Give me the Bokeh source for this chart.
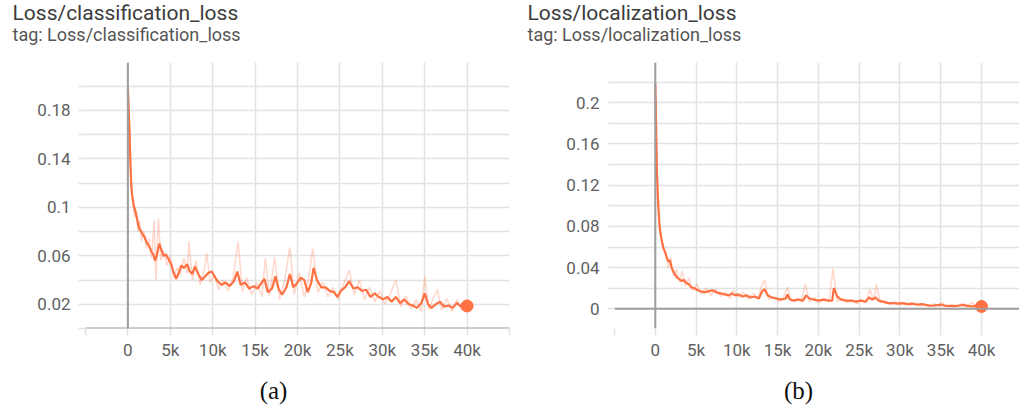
from bokeh.plotting import figure
from bokeh.models import FixedTicker, Span, Range1d, NumeralTickFormatter
from bokeh.layouts import row, column
from bokeh.core.properties import value
from bokeh.embed import file_html
from bokeh.resources import INLINE

# ---------------- data (steps in thousands) ----------------
cls_steps = [0, 0.1, 0.2, 0.3, 0.4, 0.5, 0.7, 0.9, 1.1, 1.3, 1.5, 1.7, 2.0, 2.2, 2.5, 2.8, 3.0, 3.2, 3.4, 3.7,
             3.9, 4.2, 4.5, 4.8, 5.1, 5.4, 5.7, 6.0, 6.3, 6.6, 7.0, 7.3, 7.6, 7.9, 8.3, 8.7, 9.1, 9.5, 9.9, 10.3,
             10.7, 11.1, 11.5, 12.0, 12.5, 12.9, 13.3, 13.8, 14.3, 14.8, 15.3, 15.8, 16.1, 16.5, 17.0, 17.4, 17.8, 18.2, 18.7, 19.1,
             19.5, 19.9, 20.4, 20.8, 21.2, 21.6, 21.9, 22.3, 22.8, 23.3, 23.8, 24.3, 24.7, 25.1, 25.6, 26.1, 26.6, 27.1, 27.6, 28.1,
             28.6, 29.1, 29.6, 30.1, 30.6, 31.1, 31.6, 32.1, 32.6, 33.1, 33.6, 34.1, 34.6, 35.0, 35.4, 35.8, 36.3, 36.8, 37.3, 37.8,
             38.3, 38.8, 39.3, 39.7, 40.0]
cls_smooth = [0.198, 0.180, 0.160, 0.135, 0.118, 0.110, 0.101, 0.096, 0.090, 0.083, 0.081, 0.078, 0.075, 0.071, 0.068, 0.063, 0.061, 0.056, 0.060, 0.070,
              0.066, 0.060, 0.061, 0.057, 0.053, 0.046, 0.041, 0.046, 0.052, 0.050, 0.053, 0.047, 0.045, 0.051, 0.045, 0.040, 0.043, 0.046, 0.047, 0.042,
              0.038, 0.036, 0.038, 0.035, 0.039, 0.047, 0.036, 0.038, 0.033, 0.035, 0.033, 0.038, 0.041, 0.030, 0.033, 0.043, 0.032, 0.028, 0.034, 0.045,
              0.034, 0.037, 0.042, 0.040, 0.030, 0.037, 0.050, 0.040, 0.034, 0.034, 0.031, 0.030, 0.026, 0.031, 0.034, 0.039, 0.033, 0.034, 0.031, 0.032,
              0.026, 0.029, 0.026, 0.024, 0.026, 0.022, 0.026, 0.021, 0.024, 0.020, 0.019, 0.017, 0.021, 0.029, 0.020, 0.017, 0.020, 0.022, 0.018, 0.019,
              0.017, 0.021, 0.018, 0.019, 0.0186]

cls_raw_steps = [0, 0.2, 0.4, 0.6, 0.8, 1.0, 1.2, 1.4, 1.6, 1.9, 2.2, 2.5, 2.8, 3.1, 3.3, 3.6, 3.9, 4.2, 4.6, 5.0,
                 5.4, 5.8, 6.2, 6.6, 7.0, 7.2, 7.6, 8.0, 8.5, 9.0, 9.3, 9.7, 10.2, 10.7, 11.2, 11.8, 12.4, 13.0, 13.5, 14.0,
                 14.6, 15.2, 15.8, 16.2, 16.7, 17.3, 17.9, 18.5, 19.1, 19.6, 20.2, 20.8, 21.3, 21.8, 22.4, 23.0, 23.6, 24.2, 24.8, 25.4,
                 26.1, 26.7, 27.3, 27.9, 28.5, 29.1, 29.7, 30.3, 30.9, 31.6, 32.2, 32.8, 33.4, 34.0, 34.6, 35.0, 35.5, 36.0, 36.5, 37.0,
                 37.6, 38.2, 38.8, 39.4, 40.0]
cls_raw = [0.198, 0.165, 0.120, 0.105, 0.092, 0.098, 0.080, 0.089, 0.072, 0.080, 0.066, 0.074, 0.058, 0.089, 0.040, 0.091, 0.056, 0.064, 0.052, 0.060,
           0.042, 0.050, 0.044, 0.058, 0.045, 0.072, 0.040, 0.056, 0.036, 0.048, 0.062, 0.038, 0.044, 0.032, 0.040, 0.031, 0.042, 0.072, 0.030, 0.042,
           0.028, 0.038, 0.026, 0.058, 0.027, 0.059, 0.024, 0.040, 0.067, 0.028, 0.046, 0.026, 0.040, 0.066, 0.030, 0.038, 0.026, 0.034, 0.024, 0.036,
           0.048, 0.028, 0.040, 0.024, 0.034, 0.022, 0.031, 0.020, 0.028, 0.040, 0.018, 0.027, 0.016, 0.024, 0.014, 0.043, 0.016, 0.025, 0.032, 0.015,
           0.025, 0.014, 0.024, 0.015, 0.0186]

loc_steps = [0, 0.05, 0.1, 0.15, 0.2, 0.3, 0.4, 0.5, 0.6, 0.8, 1.0, 1.2, 1.4, 1.6, 1.8, 2.0, 2.3, 2.6, 2.9, 3.2,
             3.5, 3.8, 4.1, 4.4, 4.8, 5.2, 5.6, 6.0, 6.5, 7.0, 7.5, 8.0, 8.5, 9.0, 9.4, 9.8, 10.2, 10.7, 11.2, 11.7,
             12.2, 12.7, 13.1, 13.4, 13.8, 14.3, 14.9, 15.5, 16.0, 16.2, 16.5, 17.0, 17.6, 18.1, 18.5, 18.9, 19.4, 20.0, 20.6, 21.2,
             21.7, 21.9, 22.3, 22.8, 23.4, 24.0, 24.6, 25.2, 25.8, 26.2, 26.6, 27.0, 27.4, 27.9, 28.5, 29.1, 29.7, 30.3, 30.9, 31.5,
             32.1, 32.7, 33.3, 33.9, 34.5, 35.0, 35.5, 36.1, 36.7, 37.3, 37.9, 38.3, 38.8, 39.4, 40.0]
loc_smooth = [0.218, 0.200, 0.176, 0.155, 0.134, 0.112, 0.096, 0.083, 0.075, 0.066, 0.059, 0.055, 0.050, 0.046, 0.047, 0.040, 0.035, 0.031, 0.029, 0.027,
              0.028, 0.025, 0.024, 0.021, 0.020, 0.018, 0.017, 0.016, 0.017, 0.018, 0.016, 0.015, 0.014, 0.013, 0.015, 0.013, 0.014, 0.012, 0.013, 0.011,
              0.012, 0.010, 0.017, 0.019, 0.013, 0.011, 0.010, 0.009, 0.010, 0.014, 0.009, 0.008, 0.009, 0.008, 0.013, 0.010, 0.009, 0.008, 0.009, 0.008,
              0.008, 0.020, 0.012, 0.009, 0.008, 0.008, 0.007, 0.008, 0.007, 0.011, 0.009, 0.011, 0.008, 0.007, 0.0055, 0.0055, 0.005, 0.0055, 0.0045, 0.005,
              0.004, 0.0045, 0.0035, 0.003, 0.0035, 0.0042, 0.003, 0.0028, 0.0026, 0.0032, 0.0038, 0.0028, 0.0024, 0.0028, 0.0023]

loc_raw_steps = [0, 0.2, 0.4, 0.7, 1.0, 1.3, 1.6, 1.9, 2.2, 2.6, 3.0, 3.3, 3.7, 4.1, 4.6, 5.1, 5.6, 6.2, 6.8, 7.4,
                 8.0, 8.6, 9.2, 9.6, 10.2, 10.8, 11.4, 12.0, 12.6, 13.0, 13.4, 13.9, 14.5, 15.1, 15.7, 16.2, 16.7, 17.3, 17.9, 18.4,
                 18.9, 19.5, 20.1, 20.7, 21.3, 21.8, 22.3, 22.9, 23.5, 24.1, 24.7, 25.3, 25.9, 26.3, 26.8, 27.1, 27.6, 28.2, 28.8, 29.4,
                 30.0, 30.6, 31.2, 31.8, 32.4, 33.0, 33.6, 34.2, 34.8, 35.2, 35.8, 36.4, 37.0, 37.6, 38.2, 38.8, 39.4, 40.0]
loc_raw = [0.218, 0.135, 0.095, 0.070, 0.058, 0.055, 0.040, 0.050, 0.032, 0.038, 0.026, 0.037, 0.022, 0.030, 0.018, 0.024, 0.014, 0.020, 0.013, 0.019,
           0.012, 0.016, 0.010, 0.018, 0.011, 0.016, 0.009, 0.015, 0.010, 0.022, 0.028, 0.009, 0.012, 0.007, 0.011, 0.021, 0.007, 0.010, 0.007, 0.024,
           0.007, 0.011, 0.006, 0.010, 0.007, 0.039, 0.007, 0.010, 0.006, 0.009, 0.005, 0.009, 0.006, 0.019, 0.008, 0.024, 0.006, 0.008, 0.004, 0.007,
           0.004, 0.006, 0.003, 0.006, 0.003, 0.005, 0.002, 0.005, 0.002, 0.006, 0.002, 0.004, 0.002, 0.005, 0.002, 0.006, 0.002, 0.0023]

x_major = [0, 5, 10, 15, 20, 25, 30, 35, 40]
x_minor = [-5, 45]
cls_y_major = [0.02, 0.06, 0.1, 0.14, 0.18]
cls_y_minor = [0.0, 0.04, 0.08, 0.12, 0.16, 0.2]
loc_y_major = [0.0, 0.04, 0.08, 0.12, 0.16, 0.2]
loc_y_minor = [-0.02, 0.02, 0.06, 0.1, 0.14, 0.18, 0.22]

titles = ["Loss/classification_loss", "Loss/localization_loss"]
tags = ["tag: Loss/classification_loss", "tag: Loss/localization_loss"]
letters = ["(a)", "(b)"]

ORANGE = "#ff7043"
GRID = "#e2e2e2"
ZERO = "#9e9e9e"
TICKC = "#616161"

W = 1019
HEAD_H = 62
PLOT_H = 310
FOOT_H = 34


def k(v):
    return [s * 1000 for s in v]


def blank(w, h):
    f = figure(width=w, height=h, x_range=Range1d(0, w), y_range=Range1d(0, h),
               x_axis_type=None, y_axis_type=None, output_backend="svg", toolbar_location=None,
               min_border=0, min_border_left=0, min_border_right=0, min_border_top=0, min_border_bottom=0)
    f.outline_line_color = None
    return f


def panel(width, bl, br, xr, yr, ymaj, ymin, rx, ry, sx, sy):
    p = figure(width=width, height=PLOT_H, x_range=Range1d(*xr), y_range=Range1d(*yr),
               output_backend="svg", toolbar_location=None,
               min_border_left=bl, min_border_right=br, min_border_top=0, min_border_bottom=44)
    p.outline_line_color = None
    xt = FixedTicker(ticks=k(x_major), minor_ticks=k(x_minor))
    yt = FixedTicker(ticks=ymaj, minor_ticks=ymin)
    xa = p.xaxis[0]
    ya = p.yaxis[0]
    xa.ticker = xt
    ya.ticker = yt
    p.xgrid[0].ticker = xt
    p.ygrid[0].ticker = yt
    xa.formatter = NumeralTickFormatter(format="0a")
    ya.formatter = NumeralTickFormatter(format="0.[00]")
    for ax in (xa, ya):
        ax.axis_line_color = None
        ax.major_tick_line_color = GRID
        ax.minor_tick_line_color = GRID
        ax.major_tick_line_width = 1.5
        ax.minor_tick_line_width = 1.5
        ax.major_tick_out = 7
        ax.major_tick_in = 0
        ax.minor_tick_out = 7
        ax.minor_tick_in = 0
        ax.major_label_text_font = "Roboto"
        ax.major_label_text_font_size = "17px"
        ax.major_label_text_color = TICKC
    xa.major_label_standoff = 4
    ya.major_label_standoff = 8
    for g in (p.xgrid[0], p.ygrid[0]):
        g.grid_line_color = GRID
        g.grid_line_width = 1.5
        g.minor_grid_line_color = GRID
        g.minor_grid_line_width = 1.5
    p.add_layout(Span(location=0, dimension="height", line_color=ZERO, line_width=2))
    p.add_layout(Span(location=0, dimension="width", line_color=ZERO, line_width=2))

    p.line(k(rx), ry, line_color=ORANGE, line_alpha=0.28, line_width=1.5)
    p.line(k(sx), sy, line_color=ORANGE, line_width=2.2)
    p.scatter([k(sx)[-1]], [sy[-1]], size=12, fill_color=ORANGE, line_color=ORANGE)
    return p


p1 = panel(523, 85, 14, (-5000, 45000), (0.0, 0.2195), cls_y_major, cls_y_minor,
           cls_raw_steps, cls_raw, cls_steps, cls_smooth)
p2 = panel(496, 91, 0, (-5000, 44660), (-0.0191, 0.2391), loc_y_major, loc_y_minor,
           loc_raw_steps, loc_raw, loc_steps, loc_smooth)

head = blank(W, HEAD_H)
title_x = [12, 527]
head.text(x=title_x, y=[50] * 2, text=titles, text_font=value("Roboto"),
          text_font_size="21px", text_color="#3c3c3c", text_baseline="alphabetic")
head.text(x=title_x, y=[28] * 2, text=tags, text_font=value("Roboto"),
          text_font_size="18px", text_color="#555555", text_baseline="alphabetic")

foot = blank(W, FOOT_H)
foot.text(x=[273, 798], y=[16, 16], text=letters, text_font=value("Liberation Serif"),
          text_font_size="25px", text_color="#111111", text_baseline="alphabetic",
          text_align="center")

layout = column(head, row(p1, p2), foot)
open("out.html", "w").write(file_html(layout, INLINE))
